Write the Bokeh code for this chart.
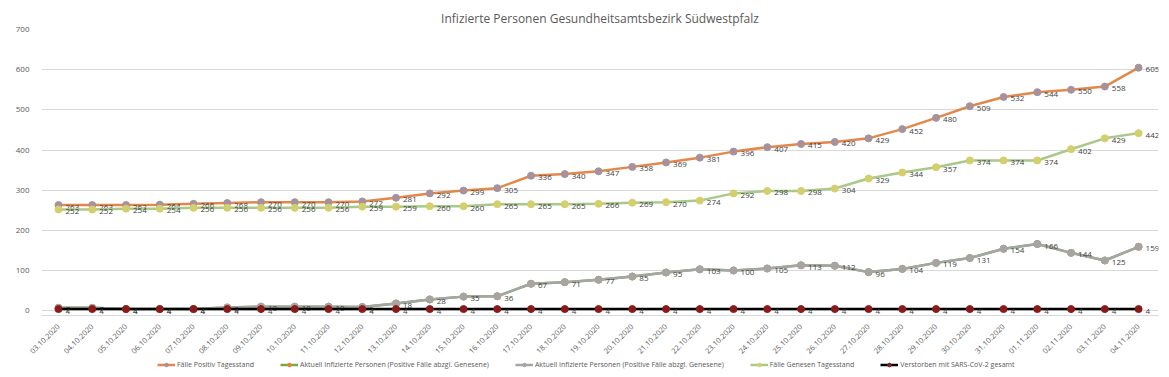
import math
from bokeh.plotting import figure
from bokeh.layouts import column
from bokeh.models import (ColumnDataSource, Range1d, FixedTicker, Legend, LegendItem)
from bokeh.core.properties import value
from bokeh.embed import file_html
from bokeh.resources import INLINE

dates = ["03.10.2020", "04.10.2020", "05.10.2020", "06.10.2020", "07.10.2020", "08.10.2020",
         "09.10.2020", "10.10.2020", "11.10.2020", "12.10.2020", "13.10.2020", "14.10.2020",
         "15.10.2020", "16.10.2020", "17.10.2020", "18.10.2020", "19.10.2020", "20.10.2020",
         "21.10.2020", "22.10.2020", "23.10.2020", "24.10.2020", "25.10.2020", "26.10.2020",
         "27.10.2020", "28.10.2020", "29.10.2020", "30.10.2020", "31.10.2020", "01.11.2020",
         "02.11.2020", "03.11.2020", "04.11.2020"]

positiv = [263, 263, 263, 264, 266, 268, 270, 270, 270, 272, 281, 292, 299, 305, 336, 340, 347,
           358, 369, 381, 396, 407, 415, 420, 429, 452, 480, 509, 532, 544, 550, 558, 605]
genesen = [252, 252, 254, 254, 256, 256, 256, 256, 256, 259, 259, 260, 260, 265, 265, 265, 266,
           269, 270, 274, 292, 298, 298, 304, 329, 344, 357, 374, 374, 374, 402, 429, 442]
aktuell = [7, 7, 4, 4, 4, 8, 10, 10, 10, 9, 18, 28, 35, 36, 67, 71, 77,
           85, 95, 103, 100, 105, 113, 112, 96, 104, 119, 131, 154, 166, 144, 125, 159]
verstorben = [4] * 33

labels_legend = ["Fälle Positiv Tagesstand",
                 "Aktuell Infizierte Personen (Positive Fälle abzgl. Genesene)",
                 "Aktuell Infizierte Personen (Positive Fälle abzgl. Genesene)",
                 "Fälle Genesen Tagesstand",
                 "Verstorben mit SARS-CoV-2 gesamt"]

FONT = "Open Sans"
idx = list(range(len(dates)))

p = figure(width=1161, height=359, output_backend="svg", toolbar_location=None,
           x_range=Range1d(-0.504, 32.59), y_range=Range1d(-12, 700),
           min_border_left=41, min_border_right=3, min_border_top=29, min_border_bottom=42)
p.title.text = "Infizierte Personen Gesundheitsamtsbezirk Südwestpfalz"
p.title.align = "center"
p.title.vertical_align = "middle"
p.title.text_font = FONT
p.title.text_font_size = "12px"
p.title.text_font_style = "normal"
p.title.text_color = "#595959"
p.title.standoff = 3
p.outline_line_color = None

p.xgrid.visible = False
p.ygrid.grid_line_color = "#D9D9D9"
p.ygrid.ticker = FixedTicker(ticks=[0, 100, 200, 300, 400, 500, 600, 700])
p.yaxis.ticker = FixedTicker(ticks=[0, 100, 200, 300, 400, 500, 600, 700])
p.yaxis.axis_line_color = None
p.yaxis.major_tick_line_color = None
p.yaxis.minor_tick_line_color = None
p.yaxis.major_label_text_font = FONT
p.yaxis.major_label_text_font_size = "8px"
p.yaxis.major_label_text_color = "#595959"
p.yaxis.major_label_standoff = 6

p.xaxis.ticker = FixedTicker(ticks=idx)
p.xaxis.major_label_overrides = {i: d for i, d in enumerate(dates)}
p.xaxis.major_label_orientation = math.pi / 4
p.xaxis.axis_line_color = "#D9D9D9"
p.xaxis.major_tick_line_color = None
p.xaxis.minor_tick_line_color = None
p.xaxis.major_label_text_font = FONT
p.xaxis.major_label_text_font_size = "7.5px"
p.xaxis.major_label_text_color = "#595959"
p.xaxis.major_label_standoff = 4

series = [
    (positiv, "#E3874A", "#A6929C", True),
    (aktuell, "#70AD47", "#ED7D31", False),
    (aktuell, "#A5A5A5", "#A5A5A5", True),
    (genesen, "#A9C98A", "#D4CF6B", True),
    (verstorben, "#000000", "#8B1A1A", True),
]

# legend strip below the chart
lg = figure(width=1161, height=10, output_backend="svg", toolbar_location=None,
            x_range=Range1d(1000, 1001), y_range=Range1d(1000, 1001),
            x_axis_type=None, y_axis_type=None,
            min_border_left=0, min_border_right=0, min_border_top=0, min_border_bottom=0)
lg.outline_line_color = None
lg.xgrid.visible = False
lg.ygrid.visible = False

items = []
for (vals, lc, mc, lab), name in zip(series, labels_legend):
    src = ColumnDataSource(dict(x=idx, y=vals, t=[str(v) for v in vals]))
    p.line("x", "y", source=src, line_color=lc, line_width=2.5)
    p.scatter("x", "y", source=src, size=7, fill_color=mc, line_color=mc)
    if lab:
        p.text("x", "y", text="t", source=src, x_offset=7, y_offset=2,
               text_font=value(FONT), text_font_size="8px", text_color="#404040",
               text_baseline="middle", text_align="left")
    lr = lg.line("x", "y", source=src, line_color=lc, line_width=2.5)
    sr = lg.scatter("x", "y", source=src, size=7, fill_color=mc, line_color=mc)
    items.append(LegendItem(label=name, renderers=[lr, sr]))

legend = Legend(items=items, orientation="horizontal", location=(116, 0),
                label_text_font=FONT, label_text_font_size="7px", label_text_color="#595959",
                glyph_width=18, glyph_height=9, label_standoff=2, spacing=26,
                label_height=9, padding=0, margin=0, border_line_color=None,
                background_fill_alpha=0)
lg.add_layout(legend, "center")

layout = column(p, lg, spacing=0)
open("out.html", "w").write(file_html(layout, INLINE))
